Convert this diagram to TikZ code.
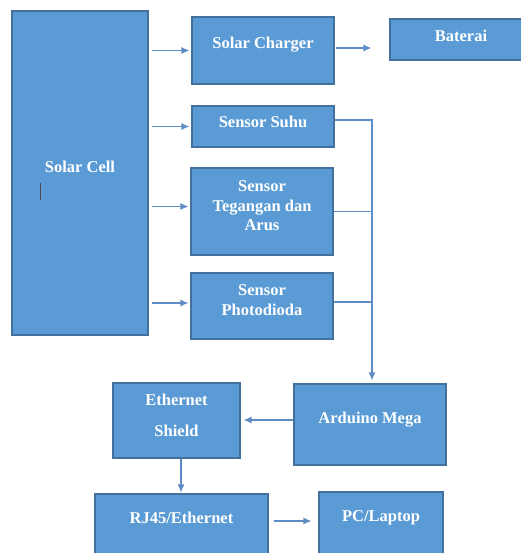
\documentclass[tikz,border=0pt]{standalone}
\usepackage{fontspec}
\setmainfont{Liberation Serif}
\usepackage{tikz}
\usetikzlibrary{calc, arrows.meta, positioning}

\definecolor{blkfill}{HTML}{5B9BD5}
\definecolor{blkline}{HTML}{41719C}
\definecolor{arrline}{HTML}{5E8CC4}

\tikzset{
    blk/.style={draw=blkline, fill=blkfill, line width=1.1pt, inner sep=0pt},
    txt/.style={text=white, font=\bfseries\fontsize{16.5}{19.5}\selectfont, align=center, inner sep=0pt},
    arr/.style={->, draw=arrline, line width=1.2pt},
    wire/.style={draw=arrline, line width=1.2pt}
}

\begin{document}
\begin{tikzpicture}[>={Latex[length=8pt,width=7pt]}, x=1pt, y=-1pt]
    \useasboundingbox (0,0) rectangle (520,553);

    % 1. Khoi cac hop
    \node[blk, minimum width=136pt, minimum height=324pt] (solarcell) at (80,173) {};
    \node[txt] (solarcell-t) at (80,167) {Solar Cell};
    \draw[gray!60!black, line width=0.8pt] (40,183) -- (40,200);

    \node[blk, minimum width=142pt, minimum height=67pt] (charger) at (263,50.5) {};
    \node[txt] (charger-t) at (263,45) {Solar Charger};

    \node[blk, minimum width=140pt, minimum height=41pt] (baterai) at (460,39.5) {};
    \node[txt] (baterai-t) at (461,36) {Baterai};

    \node[blk, minimum width=142pt, minimum height=41pt] (suhu) at (263,126.5) {};
    \node[txt] (suhu-t) at (263,122) {Sensor Suhu};

    \node[blk, minimum width=142pt, minimum height=87pt] (tegangan) at (262,211.5) {};
    \node[txt] (tegangan-t) at (262,206) {Sensor\\Tegangan dan\\Arus};

    \node[blk, minimum width=142pt, minimum height=66pt] (photo) at (262,306) {};
    \node[txt] (photo-t) at (262,300) {Sensor\\Photodioda};

    \node[blk, minimum width=152pt, minimum height=81pt] (arduino) at (370,424.5) {};
    \node[txt] (arduino-t) at (370,420) {Arduino Mega};

    \node[blk, minimum width=127pt, minimum height=75pt] (shield) at (176.5,420.5) {};
    \node[txt] (shield-t) at (176.5,415.5) {Ethernet\\[11pt]Shield};

    \node[blk, minimum width=173pt, minimum height=68pt] (rj45) at (181.5,528) {};
    \node[txt] (rj45-t) at (181.5,518) {RJ45/Ethernet};

    \node[blk, minimum width=124pt, minimum height=68pt] (pc) at (381,526) {};
    \node[txt] (pc-t) at (381,518) {PC/Laptop};

    % 2. Mui ten tu Solar Cell
    \draw[arr, shorten <=3pt, shorten >=2pt] (solarcell.east |- charger) -- (charger.west);
    \draw[arr, shorten <=3pt, shorten >=2pt] (solarcell.east |- suhu) -- (suhu.west);
    \draw[arr, shorten <=3pt, shorten >=2pt] ([yshift=5pt]solarcell.east |- tegangan) -- ([yshift=5pt]tegangan.west);
    \draw[arr, shorten <=3pt, shorten >=2pt] ([yshift=3pt]solarcell.east |- photo) -- ([yshift=3pt]photo.west);

    \draw[arr, shorten <=1pt, shorten >=18pt] ([yshift=2.5pt]charger.east) -- ([yshift=2.5pt]charger.east -| baterai.west);

    % 3. Duong cam bien ve Arduino
    \coordinate (bus) at ([xshift=2pt]arduino.north);
    \draw[arr, shorten >=3pt] ([yshift=6.5pt]suhu.east) -| (bus);
    \draw[wire] (tegangan.east) -- (tegangan.east -| bus);
    \draw[wire] ([yshift=4pt]photo.east) -- ([yshift=4pt]photo.east -| bus);

    % 4. Arduino -> Ethernet -> PC
    \draw[arr, shorten >=3pt] ([yshift=4.5pt]arduino.west) -- ([yshift=4.5pt]arduino.west -| shield.east);
    \draw[arr, shorten >=1pt] ([xshift=4.5pt]shield.south) -- ([xshift=4.5pt]shield.south |- rj45.north);
    \draw[arr, shorten <=5pt, shorten >=7pt] ([yshift=7pt]rj45.east) -- ([yshift=7pt]rj45.east -| pc.west);
\end{tikzpicture}
\end{document}
